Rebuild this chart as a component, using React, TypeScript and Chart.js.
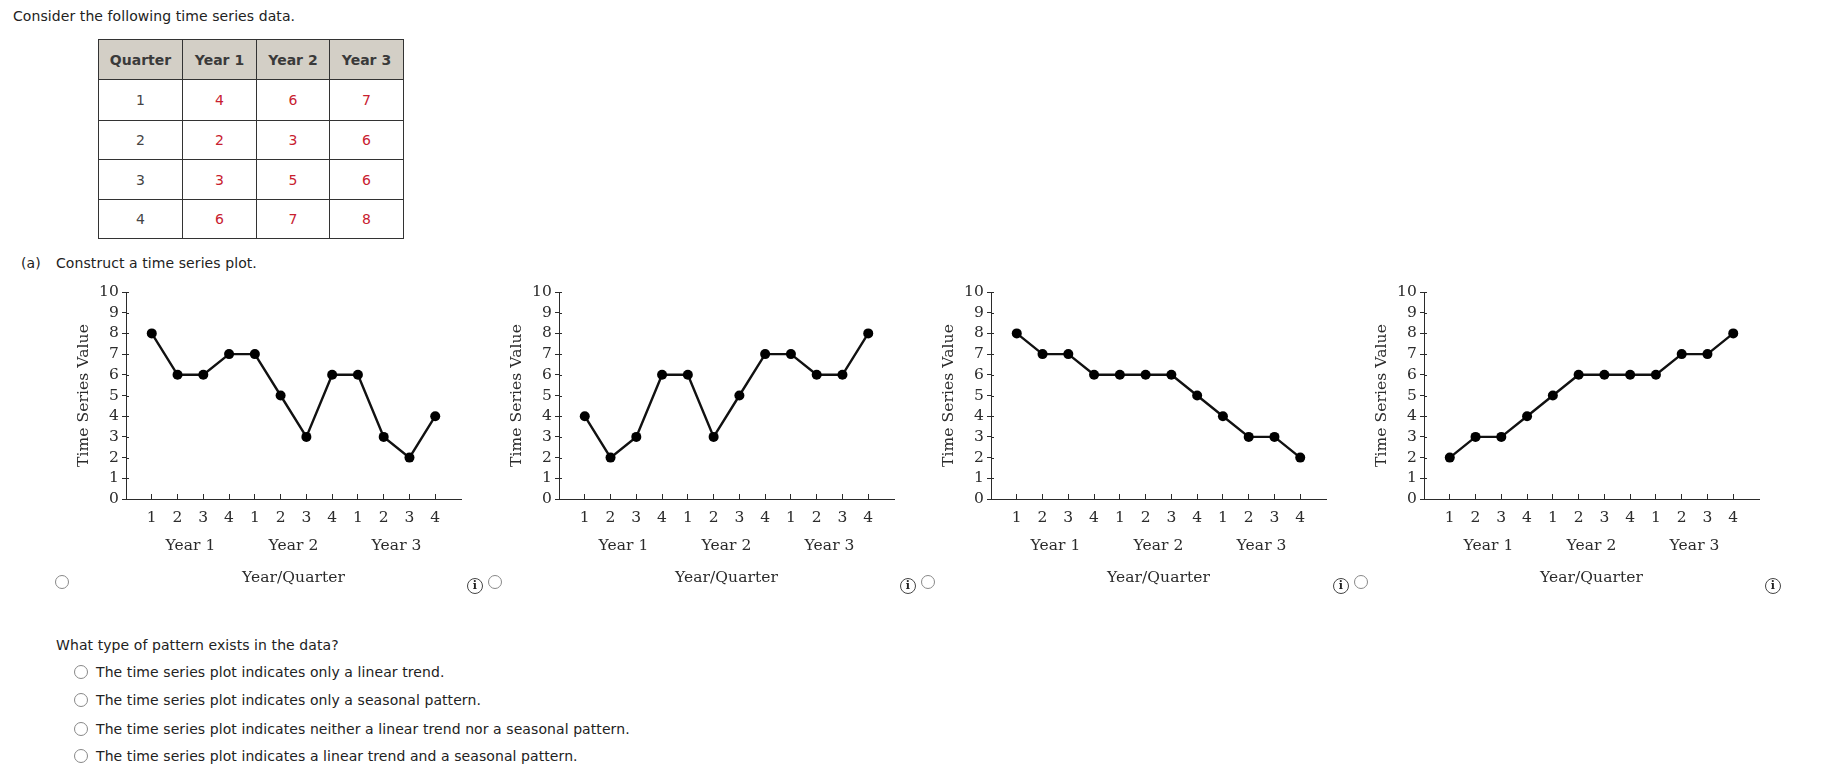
import React, { useEffect, useRef } from "react";
import { Chart, registerables } from "chart.js";

Chart.register(...registerables);

const quarterLabels = ["1", "2", "3", "4", "1", "2", "3", "4", "1", "2", "3", "4"];
const yearLabels = ["Year 1", "Year 2", "Year 3"];
const yearCentres = [2.5, 6.5, 10.5];

const seriesA = [8, 6, 6, 7, 7, 5, 3, 6, 6, 3, 2, 4];
const seriesB = [4, 2, 3, 6, 6, 3, 5, 7, 7, 6, 6, 8];
const seriesC = [8, 7, 7, 6, 6, 6, 6, 5, 4, 3, 3, 2];
const seriesD = [2, 3, 3, 4, 5, 6, 6, 6, 6, 7, 7, 8];

const tableHeaders = ["Quarter", "Year 1", "Year 2", "Year 3"];
const tableQuarters = ["1", "2", "3", "4"];
const tableYear1 = ["4", "2", "3", "6"];
const tableYear2 = ["6", "3", "5", "7"];
const tableYear3 = ["7", "6", "6", "8"];

const patternOptions = [
  "The time series plot indicates only a linear trend.",
  "The time series plot indicates only a seasonal pattern.",
  "The time series plot indicates neither a linear trend nor a seasonal pattern.",
  "The time series plot indicates a linear trend and a seasonal pattern.",
];

const SANS = '"DejaVu Sans", sans-serif';
const SERIF = '"DejaVu Serif", serif';
const INK = "#2b2b2b";
const SERIF_SIZE = 15.5;

const decor = {
  id: "decor",
  afterDraw(chart: any) {
    const { ctx, scales } = chart;
    ctx.save();
    ctx.strokeStyle = INK;
    ctx.lineWidth = 1;
    for (const t of scales.y.ticks) {
      const py = Math.round(scales.y.getPixelForValue(t.value)) + 0.5;
      ctx.beginPath();
      ctx.moveTo(scales.y.right, py);
      ctx.lineTo(scales.y.right + 3, py);
      ctx.stroke();
    }
    ctx.fillStyle = INK;
    ctx.font = `${SERIF_SIZE}px ${SERIF}`;
    ctx.textAlign = "center";
    ctx.textBaseline = "middle";
    yearLabels.forEach((label, i) => {
      ctx.fillText(label, scales.x.getPixelForValue(yearCentres[i]), 276);
    });
    ctx.restore();
  },
};

function Plot({ values, left }: { values: number[]; left: number }) {
  const ref = useRef<HTMLCanvasElement | null>(null);
  useEffect(() => {
    const chart = new Chart(ref.current as HTMLCanvasElement, {
      type: "line",
      data: {
        datasets: [
          {
            data: values.map((y, i) => ({ x: i + 1, y })),
            borderColor: "#111",
            backgroundColor: "#000",
            borderWidth: 2.4,
            pointRadius: 5,
            pointBackgroundColor: "#000",
            pointBorderWidth: 0,
            tension: 0,
          },
        ],
      },
      options: {
        animation: false,
        responsive: false,
        devicePixelRatio: 1,
        layout: { padding: { top: 22, right: 9, left: 0, bottom: 0 } },
        plugins: { legend: { display: false }, tooltip: { enabled: false } },
        scales: {
          x: {
            type: "linear",
            min: 0,
            max: 13,
            afterFit: (s: any) => { s.height = 111; },
            afterBuildTicks: (s: any) => {
              s.ticks = quarterLabels.map((_, i) => ({ value: i + 1 }));
            },
            grid: { drawOnChartArea: false, tickLength: -5, color: INK },
            border: { color: INK, width: 1 },
            ticks: {
              autoSkip: false,
              maxRotation: 0,
              padding: 15,
              color: INK,
              font: { family: SERIF, size: SERIF_SIZE },
              callback: (v: any) => quarterLabels[Number(v) - 1] ?? "",
            },
            title: {
              display: true,
              text: "Year/Quarter",
              color: INK,
              font: { family: SERIF, size: SERIF_SIZE },
              padding: { top: 0, bottom: 23 },
            },
          },
          y: {
            min: 0,
            max: 10,
            afterFit: (s: any) => { s.width = 86; },
            grid: { drawOnChartArea: false, tickLength: 4, color: INK },
            border: { color: INK, width: 1 },
            ticks: {
              stepSize: 1,
              autoSkip: false,
              padding: 3,
              color: INK,
              font: { family: SERIF, size: SERIF_SIZE },
            },
            title: {
              display: true,
              text: "Time Series Value",
              color: INK,
              font: { family: SERIF, size: SERIF_SIZE },
              padding: { top: 35, bottom: 0 },
            },
          },
        },
      },
      plugins: [decor],
    } as any);
    return () => chart.destroy();
  }, [values]);
  return (
    <canvas
      ref={ref}
      width={430}
      height={340}
      style={{ position: "absolute", left, top: 270, width: 430, height: 340 }}
    />
  );
}

const Txt = ({ x, y, children }: { x: number; y: number; children: React.ReactNode }) => (
  <div style={{ position: "absolute", left: x, top: y - 10, height: 20, lineHeight: "20px", whiteSpace: "nowrap" }}>
    {children}
  </div>
);

const Radio = ({ x, y }: { x: number; y: number }) => (
  <div
    style={{
      position: "absolute",
      left: x - 7,
      top: y - 7,
      width: 12,
      height: 12,
      borderRadius: "50%",
      border: "1px solid #888",
      background: "#fff",
    }}
  />
);

const Info = ({ x, y }: { x: number; y: number }) => (
  <div
    style={{
      position: "absolute",
      left: x - 8,
      top: y - 8,
      width: 14,
      height: 14,
      borderRadius: "50%",
      border: "1px solid #444",
      textAlign: "center",
      fontFamily: SERIF,
      fontWeight: 700,
      fontSize: 11,
      lineHeight: "14px",
      color: "#222",
    }}
  >
    i
  </div>
);

const cols = [98, 182, 256, 329, 403];
const rows = [39, 79, 120, 159, 199, 238];

function DataTable() {
  const body = tableQuarters.map((q, i) => [q, tableYear1[i], tableYear2[i], tableYear3[i]]);
  const cell = (c: number, r: number, text: string, color: string, bold: boolean, bg: string) => (
    <div
      key={`${r}-${c}`}
      style={{
        position: "absolute",
        left: cols[c],
        top: rows[r],
        width: cols[c + 1] - cols[c] + 1,
        height: rows[r + 1] - rows[r] + 1,
        boxSizing: "border-box",
        border: "1px solid #333",
        background: bg,
        color,
        fontWeight: bold ? 700 : 400,
        textAlign: "center",
        lineHeight: `${rows[r + 1] - rows[r]}px`,
        fontSize: 14,
        letterSpacing: bold ? 0 : 0.08,
      }}
    >
      {text}
    </div>
  );
  return (
    <>
      {tableHeaders.map((h, c) => cell(c, 0, h, "#3a3a3a", true, "#d3cfc6"))}
      {body.map((row, r) =>
        row.map((v, c) => cell(c, r + 1, v, c === 0 ? "#444" : "#c8202f", false, "#fff"))
      )}
    </>
  );
}

const plotLefts = [40, 473, 905, 1338];
const plotSeries = [seriesA, seriesB, seriesC, seriesD];
const radioXs = [62, 495, 928, 1361];
const infoXs = [475, 908, 1341, 1773];
const optionYs = [672, 700, 729, 756];

export default function App() {
  return (
    <div
      style={{
        position: "absolute",
        left: 0,
        top: 0,
        width: 1822,
        height: 780,
        overflow: "hidden",
        background: "#fff",
        fontFamily: SANS,
        fontSize: 14,
        letterSpacing: 0.08,
        color: "#222",
      }}
    >
      <Txt x={13} y={16}>Consider the following time series data.</Txt>
      <DataTable />
      <Txt x={21} y={263}>(a)</Txt>
      <Txt x={56} y={263}>Construct a time series plot.</Txt>
      {plotSeries.map((s, i) => (
        <Plot key={i} values={s} left={plotLefts[i]} />
      ))}
      {radioXs.map((x) => <Radio key={x} x={x} y={582} />)}
      {infoXs.map((x) => <Info key={x} x={x} y={586} />)}
      <Txt x={56} y={645}>What type of pattern exists in the data?</Txt>
      {patternOptions.map((t, i) => (
        <React.Fragment key={t}>
          <Radio x={81} y={optionYs[i]} />
          <Txt x={96} y={optionYs[i]}>{t}</Txt>
        </React.Fragment>
      ))}
    </div>
  );
}
